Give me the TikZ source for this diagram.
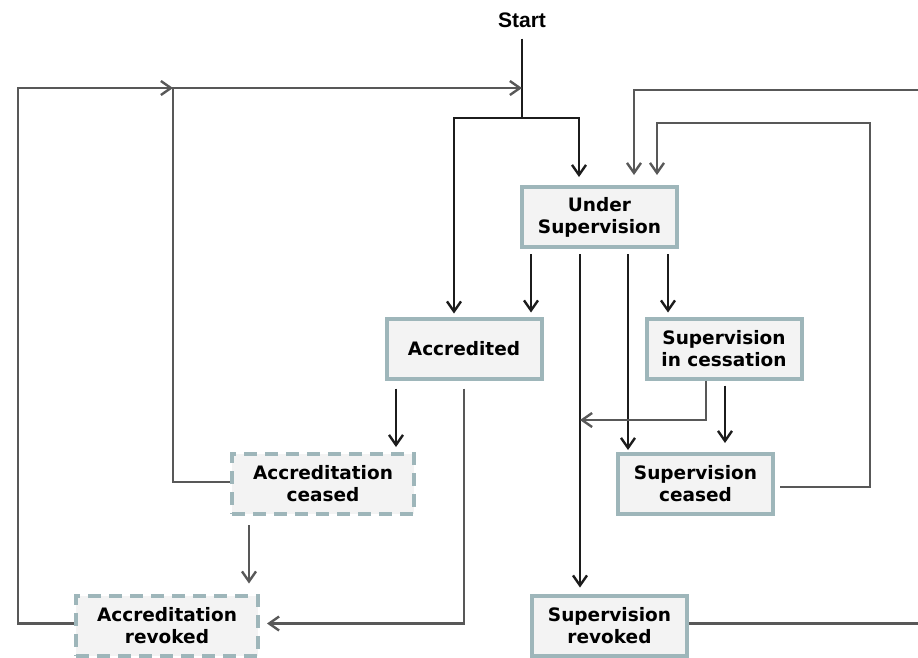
\documentclass[tikz,border=0pt]{standalone}
\usepackage{fontspec}
\setmainfont{DejaVu Sans}
\newfontfamily\startfont{Liberation Sans}
\usetikzlibrary{arrows.meta}
\definecolor{ink}{RGB}{28, 28, 28}
\definecolor{slate}{RGB}{88, 88, 88}
\definecolor{frame}{RGB}{158, 182, 186}
\definecolor{paper}{RGB}{243, 243, 243}
\tikzset{
    statebox/.style={draw=frame, fill=paper, line width=4pt, inner sep=0pt,
        minimum width=155pt, minimum height=60pt, align=center,
        font=\bfseries\fontsize{18.5}{22}\selectfont},
    stateoff/.style={statebox, dash pattern=on 13pt off 8pt, minimum width=182pt},
    flow/.style={draw=ink, line width=2.4pt, -{Straight Barb[length=10pt,width=14pt]}},
    back/.style={draw=slate, line width=2.4pt, -{Straight Barb[length=10pt,width=14pt]}}
}

\begin{document}
\begin{tikzpicture}[x=1pt, y=-1pt]
            \clip (0,0) rectangle (918,657);
            % States
            \node[font=\startfont\bfseries\fontsize{21}{25}\selectfont, inner sep=2pt] (start) at (522, 20) {Start};
            \node[statebox] (under)      at (599.5, 217.0) {Under\\Supervision};
            \node[statebox] (accredited) at (464.0, 348.5) {Accredited};
            \node[statebox] (cessation)  at (724.0, 348.5) {Supervision\\in cessation};
            \node[stateoff] (accceased)  at (323.0, 484.0) {Accreditation\\ceased};
            \node[statebox] (supceased)  at (695.5, 484.0) {Supervision\\ceased};
            \node[stateoff] (accrevoked) at (167.0, 625.5) {Accreditation\\revoked};
            \node[statebox] (suprevoked) at (609.5, 625.5) {Supervision\\revoked};
            % Entry
            \draw[ink, line width=2.4pt] ([yshift=-9pt]start.south) -- (start.south |- 0,118) coordinate (split);
            \draw[flow, shorten >=8pt] (split) -| (under.north -| 579,0);
            \draw[flow, shorten >=3pt] (split) -| (accredited.north -| 454,0);
            % Forward transitions
            \draw[flow, shorten <=5pt, shorten >=4pt] (under.south -| 531,0)      -- (accredited.north -| 531,0);
            \draw[flow, shorten <=5pt, shorten >=4pt] (under.south -| 668,0)      -- (cessation.north -| 668,0);
            \draw[flow, shorten <=5pt, shorten >=2pt] (under.south -| 628,0)      -- (supceased.north -| 628,0);
            \draw[flow, shorten <=5pt, shorten >=6pt] (under.south -| 580,0)      -- (suprevoked.north -| 580,0);
            \draw[flow, shorten <=5pt, shorten >=9pt] (cessation.south -| 725,0)  -- (supceased.north -| 725,0);
            \draw[flow, shorten <=8pt, shorten >=5pt] (accredited.south -| 396,0) -- (accceased.north -| 396,0);
            % Return transitions
            \coordinate (merge) at (580, 420);
            \draw[back] (cessation.south -| 706,0) |- (merge);
            \draw[back, shorten <=8pt, shorten >=7pt] (accredited.south) |- ([yshift=2pt]accrevoked.east);
            \draw[back, shorten <=9pt, shorten >=10pt] (accceased.south -| 249,0) -- (accrevoked.north -| 249,0);
            \draw[back] ([yshift=2pt]accceased.west) -| (173, 88) coordinate (corner) -- (start.south |- 0,88);
            \draw[back] ([yshift=2pt]accrevoked.west) -| (18, 88) -- (corner);
            \draw[back, shorten <=5pt, shorten >=10pt] ([yshift=-3pt]supceased.east) -| (870,123) -| (under.north -| 657,0);
            \draw[back, shorten >=10pt] ([yshift=2pt]suprevoked.east) -| (930, 90) -| (under.north -| 634,0);
\end{tikzpicture}
\end{document}
